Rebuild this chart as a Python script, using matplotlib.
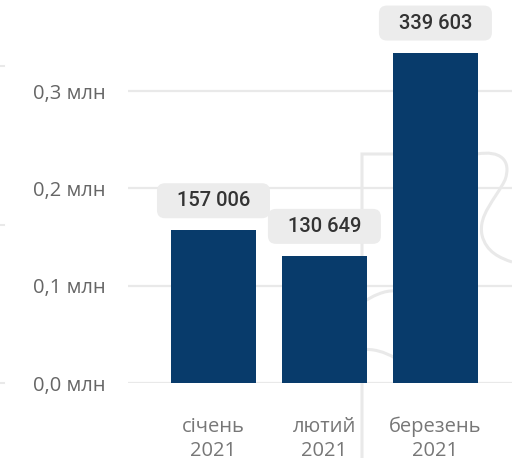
import matplotlib
matplotlib.use("Agg")
import matplotlib.pyplot as plt
import matplotlib.transforms as mtransforms
from matplotlib.patches import FancyBboxPatch, PathPatch
from matplotlib.path import Path
from matplotlib.lines import Line2D

months = ["січень\n2021", "лютий\n2021", "березень\n2021"]
values = [157006, 130649, 339603]
y_ticks = [0.0, 0.1, 0.2, 0.3]
y_tick_labels = ["0,0 млн", "0,1 млн", "0,2 млн", "0,3 млн"]

BAR_COLOR = "#083b6b"
GRID_COLOR = "#e9e9e9"
BOX_COLOR = "#ececec"

fig = plt.figure(figsize=(5.12, 4.58), dpi=100)

# faint background decoration (puzzle outline), in pixel coords of the image
px = mtransforms.Affine2D().scale(1 / 512, -1 / 458).translate(0, 1) + fig.transFigure
verts = [
    (362, 458), (362, 154), (477, 154),
    (500, 150), (512, 160), (505, 180),
    (495, 200), (478, 215), (482, 235),
    (486, 252), (500, 258), (512, 262),
]
codes = [Path.MOVETO, Path.LINETO, Path.LINETO,
         Path.CURVE4, Path.CURVE4, Path.CURVE4,
         Path.CURVE4, Path.CURVE4, Path.CURVE4,
         Path.CURVE4, Path.CURVE4, Path.CURVE4]
fig.patches.append(PathPatch(Path(verts, codes), transform=px, fill=False,
                             edgecolor=GRID_COLOR, lw=2.2, zorder=-1))
knob = Path([(362, 303), (372, 296), (385, 290), (395, 291),
             (362, 350), (372, 348), (385, 352), (395, 358)],
            [Path.MOVETO, Path.CURVE4, Path.CURVE4, Path.CURVE4,
             Path.MOVETO, Path.CURVE4, Path.CURVE4, Path.CURVE4])
fig.patches.append(PathPatch(knob, transform=px, fill=False,
                             edgecolor=GRID_COLOR, lw=2.2, zorder=-1))
for yy in [66, 225, 383]:
    fig.lines.append(Line2D([0, 4], [yy, yy], transform=px, color=GRID_COLOR,
                            lw=1.5, zorder=-1))

ax = fig.add_axes([128 / 512, 1 - 383 / 458, 1 - 128 / 512, 383 / 458])
ax.patch.set_visible(False)

x = list(range(len(months)))
vals_mln = [v / 1e6 for v in values]
ax.bar(x, vals_mln, width=0.766, color=BAR_COLOR, zorder=3)

ax.set_xlim(-0.77, 2.69)
ax.set_ylim(0, 0.3936)
ax.set_yticks(y_ticks)
ax.set_yticklabels(y_tick_labels, fontfamily="Open Sans", fontsize=14.5, color="#666666")
ax.set_xticks(x)
ax.set_xticklabels(months, fontfamily="Open Sans", fontsize=14.5, color="#777777",
                   linespacing=1.25)
ax.tick_params(axis="y", length=0, pad=16)
ax.tick_params(axis="x", length=0, pad=24.5)
ax.grid(axis="y", color=GRID_COLOR, lw=1.6, zorder=0)
for s in ax.spines.values():
    s.set_visible(False)

# data labels in rounded grey boxes
for xi, vm, v in zip(x, vals_mln, values):
    t = fig.dpi_scale_trans + mtransforms.ScaledTranslation(xi, vm, ax.transData)
    box = FancyBboxPatch((-0.565, 0.12), 1.13, 0.35,
                         boxstyle="round,pad=0,rounding_size=0.08",
                         transform=t, facecolor=BOX_COLOR, edgecolor="none",
                         zorder=4, clip_on=False)
    ax.add_patch(box)
    label = f"{v:,}".replace(",", " ")
    ax.annotate(label, (xi, vm), xytext=(0, 21.2), textcoords="offset points",
                ha="center", va="center", fontfamily="Roboto", fontweight="medium",
                fontsize=14.5, color="#333333", zorder=5, annotation_clip=False)

fig.savefig("out.png", dpi=100)
